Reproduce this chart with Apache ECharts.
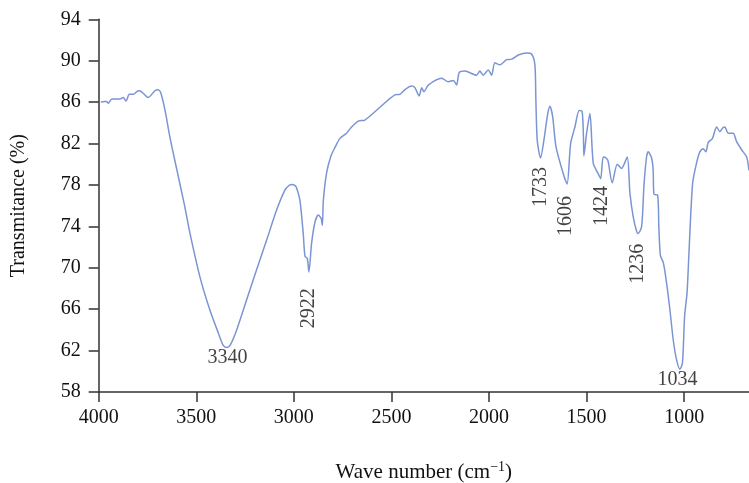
<!DOCTYPE html>
<html>
<head>
<meta charset="utf-8">
<script src="https://cdn.jsdelivr.net/npm/echarts@6/dist/echarts.min.js"></script>
<style>html,body{margin:0;padding:0;background:#fff}#c{width:749px;height:483px}</style>
</head>
<body>
<div id="c"></div>
<script>
// ---- data ----
const wavenumbers = [3990,3970,3959,3951,3933,3891,3874,3860,3843,3823,3797,3780,3746,3712,3695,3682,3660,3635,3600,3560,3532,3481,3430,3387,3362,3344,3327,3293,3242,3191,3139,3088,3046,3025,3011,2995,2986,2969,2952,2943,2931,2923,2909,2892,2875,2861,2854,2849,2832,2810,2790,2764,2730,2704,2670,2636,2559,2482,2457,2431,2397,2380,2358,2345,2334,2311,2243,2209,2183,2166,2153,2124,2064,2047,2030,2004,1987,1970,1944,1910,1884,1850,1807,1782,1765,1760,1753,1736,1719,1700,1688,1674,1657,1620,1600,1582,1560,1538,1523,1516,1514,1500,1483,1466,1441,1428,1415,1400,1390,1369,1343,1321,1292,1278,1261,1245,1236,1218,1206,1193,1184,1167,1159,1155,1136,1130,1122,1107,1090,1073,1056,1039,1022,1009,998,985,975,957,937,920,903,889,877,855,834,817,803,792,775,749,732,706,680,668];
const transmittance = [86.0,86.05,86.05,85.9,86.3,86.3,86.45,86.1,86.75,86.75,87.1,87.0,86.45,87.1,87.2,86.9,85.2,82.6,79.5,76.0,73.3,69.1,65.9,63.7,62.5,62.3,62.5,64.0,66.9,69.8,72.7,75.6,77.5,77.95,78.05,77.95,77.7,76.5,73.3,71.1,70.9,69.6,72.4,74.4,75.1,74.8,74.1,76.5,79.2,80.8,81.6,82.5,83.0,83.6,84.17,84.27,85.5,86.7,86.75,87.2,87.55,87.4,86.6,87.4,87.0,87.65,88.3,87.97,88.1,87.65,88.85,89.0,88.6,89.0,88.6,89.1,88.6,89.8,89.6,90.1,90.15,90.55,90.75,90.65,89.6,86.2,82.3,80.6,82.3,84.8,85.6,84.6,81.7,79.1,78.1,82.0,83.6,85.2,85.1,82.5,80.8,83.0,84.9,80.1,79.1,78.6,80.7,80.6,80.3,78.2,80.0,79.6,80.7,77.2,74.9,73.6,73.3,74.0,78.0,80.7,81.2,80.6,79.4,77.1,77.0,74.0,71.2,70.5,68.5,65.9,63.0,61.1,60.2,60.8,65.3,67.7,71.7,78.15,80.1,81.2,81.5,81.2,82.1,82.5,83.6,83.15,83.5,83.6,83.0,83.0,82.2,81.4,80.7,79.4];

const xTicks = [4000,3500,3000,2500,2000,1500,1000];
const yTicks = [58,62,66,70,74,78,82,86,90,94];

const peakNames = ['3340','2922','1733','1606','1424','1236','1034'];
const peakWave  = [3340,2922,1733,1606,1424,1236,1034];
const peakLabelT = [61.3,66.1,77.8,75.0,77.5,70.4,59.2];
const peakRotated = [false,true,true,true,true,true,false];

// ---- chart ----
const FONT = '"Liberation Serif","DejaVu Serif",serif';
const lineData = wavenumbers.map((w,i)=>[w, transmittance[i]]);
const peakData = peakNames.map((n,i)=>({
  name: n,
  value: [peakWave[i], peakLabelT[i]],
  label: { rotate: peakRotated[i] ? 90 : 0, offset: n === '1424' ? [-16,0] : [0,0] }
}));

const chart = echarts.init(document.getElementById('c'), null, {renderer:'canvas'});
chart.setOption({
  animation: false,
  backgroundColor: '#fff',
  grid: { left: 98.7, right: 0, top: 19.3, bottom: 91, containLabel: false, outerBoundsMode: 'none' },
  xAxis: {
    type: 'value', inverse: true, min: 668, max: 4000,
    name: 'Wave number (cm{sup|\u22121})',
    nameLocation: 'middle', nameGap: 68,
    nameTextStyle: { fontFamily: FONT, fontSize: 21, color: '#111', lineHeight: 24,
      rich: { sup: { fontFamily: FONT, fontSize: 14, color: '#111', verticalAlign: 'top', lineHeight: 24 } } },
    axisLine: { show: true, lineStyle: { color: '#333', width: 1.5 } },
    axisTick: { show: true, length: 10, customValues: xTicks, lineStyle: { color: '#333', width: 1.5 } },
    axisLabel: { customValues: xTicks, margin: 16, fontFamily: FONT, fontSize: 20, color: '#111',
      formatter: v => String(v) },
    splitLine: { show: false }
  },
  yAxis: {
    type: 'value', min: 58, max: 94,
    name: 'Transmitance (%)', nameLocation: 'middle', nameRotate: 90, nameGap: 70,
    nameTextStyle: { fontFamily: FONT, fontSize: 20, color: '#111' },
    axisLine: { show: true, lineStyle: { color: '#333', width: 1.5 } },
    axisTick: { show: true, length: 10, customValues: yTicks, lineStyle: { color: '#333', width: 1.5 } },
    axisLabel: { customValues: yTicks, margin: 18, fontFamily: FONT, fontSize: 20, color: '#111',
      formatter: v => String(v) },
    splitLine: { show: false }
  },
  series: [
    { type: 'line', data: lineData, showSymbol: false, smooth: 0.25,
      lineStyle: { color: '#7b95d3', width: 1.5 }, clip: true, z: 2 },
    { type: 'scatter', data: peakData, symbolSize: 0, silent: true, z: 3,
      label: { show: true, position: 'inside', formatter: '{b}', align: 'center', verticalAlign: 'middle',
        fontFamily: FONT, fontSize: 20, color: '#111' } }
  ]
});
</script>
</body>
</html>
